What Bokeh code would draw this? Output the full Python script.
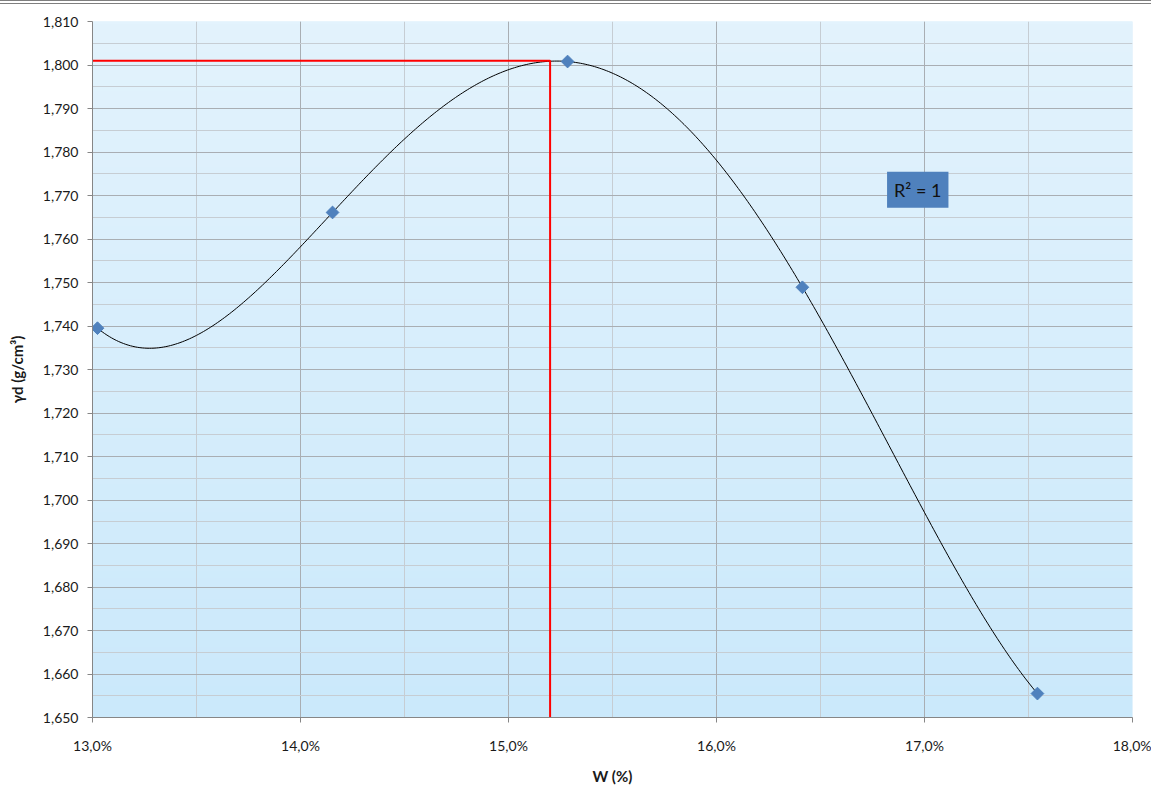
import numpy as np
from bokeh.plotting import figure
from bokeh.layouts import column
from bokeh.models import (Range1d, SingleIntervalTicker, CustomJSTickFormatter, Label, Div)
from bokeh.embed import file_html
from bokeh.resources import INLINE

# ---- data ----
w_pct = [13.024, 14.154, 15.284, 16.413, 17.543]
gamma_d = [1.7395, 1.7661, 1.8008, 1.7489, 1.6555]
opt_w = 15.2
opt_gamma = 1.801
x_range = (13.0, 18.0)
y_range = (1.650, 1.810)
r2_text = "R² = 1"

FONT = "Lato"

top_rule = Div(text="", width=1151, height=5,
               styles={"border-top": "4px double #7F7F7F", "box-sizing": "border-box",
                       "margin": "0", "padding": "0"})

p = figure(width=1151, height=782, output_backend="svg", toolbar_location=None,
           x_range=Range1d(*x_range), y_range=Range1d(*y_range),
           min_border_left=92, min_border_right=19, min_border_top=16, min_border_bottom=69)
p.outline_line_color = None
p.background_fill_color = "#D8EEFC"
p.border_fill_color = "white"

# gradient background
ny = 200
t = np.linspace(0, 1, ny)[:, None]  # bottom->top
top = np.array([227, 243, 253])
bot = np.array([203, 233, 251])
cols = (bot + (top - bot) * t).astype(np.uint32)
img = np.zeros((ny, 2), dtype=np.uint32)
view = img.view(dtype=np.uint8).reshape((ny, 2, 4))
view[:, :, 0] = cols[:, 0:1]
view[:, :, 1] = cols[:, 1:2]
view[:, :, 2] = cols[:, 2:3]
view[:, :, 3] = 255
p.image_rgba(image=[img], x=x_range[0], y=y_range[0],
             dw=x_range[1] - x_range[0], dh=y_range[1] - y_range[0], level="image")

# axes / ticks
p.xaxis.ticker = SingleIntervalTicker(interval=1.0, num_minor_ticks=2)
p.yaxis.ticker = SingleIntervalTicker(interval=0.01, num_minor_ticks=2)
p.xaxis.formatter = CustomJSTickFormatter(code="return tick.toFixed(1).replace('.', ',') + '%';")
p.yaxis.formatter = CustomJSTickFormatter(code="return tick.toFixed(3).replace('.', ',');")
for ax in (p.xaxis[0], p.yaxis[0]):
    ax.axis_line_color = "#868686"
    ax.major_tick_line_color = "#868686"
    ax.major_tick_out = 5
    ax.major_tick_in = 0
    ax.minor_tick_line_color = None
    ax.major_label_text_font = FONT
    ax.major_label_text_font_size = "14px"
    ax.major_label_text_color = "#1A1A1A"
    ax.axis_label_text_font = FONT
    ax.axis_label_text_font_style = "bold"
    ax.axis_label_text_font_size = "15px"
    ax.axis_label_text_color = "#1A1A1A"
p.xaxis.major_label_standoff = 14
p.yaxis.major_label_standoff = 9
p.xaxis.axis_label = "W (%)"
p.yaxis.axis_label = "γd (g/cm³)"
p.xaxis.axis_label_standoff = 10
p.yaxis.axis_label_standoff = 14

p.grid.grid_line_color = "#A9AEB3"
p.grid.grid_line_width = 1
p.grid.minor_grid_line_color = "#C6CDD3"
p.grid.minor_grid_line_width = 1

# polynomial trendline (order 4, through the 5 points)
coef = np.polyfit(w_pct, gamma_d, 4)
xs = np.linspace(min(w_pct), max(w_pct), 400)
p.line(xs, np.polyval(coef, xs), line_color="black", line_width=1)

# optimum lines
p.line([x_range[0], opt_w, opt_w], [opt_gamma, opt_gamma, y_range[0]],
       line_color="#FF0000", line_width=2)

# points (square rotated 45deg = Excel diamond)
p.scatter(w_pct, gamma_d, marker="square", angle=np.pi / 4, size=9,
          fill_color="#4F81BD", line_color="#4F81BD")

# R^2 label
lab = Label(x=16.82, y=1.7713, text=r2_text, text_font=FONT, text_font_size="18px",
            text_color="#111111", text_baseline="middle", text_align="left",
            background_fill_color="#4F81BD", padding=7)
p.add_layout(lab)

layout = column(top_rule, p, spacing=0)
open("out.html", "w").write(file_html(layout, INLINE))
